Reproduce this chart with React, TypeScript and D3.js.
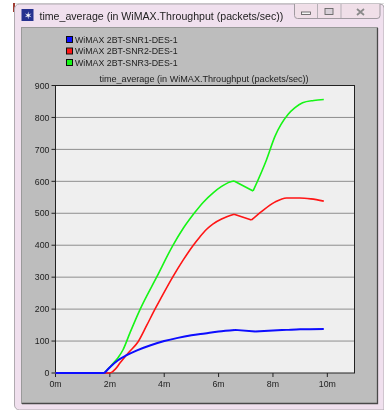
import React from "react";
import * as d3 from "d3";

const legendLabels = ["WiMAX 2BT-SNR1-DES-1", "WiMAX 2BT-SNR2-DES-1", "WiMAX 2BT-SNR3-DES-1"];
const seriesColors = ["#0a0aff", "#ff1414", "#14f514"];
const chartTitle = "time_average (in WiMAX.Throughput (packets/sec))";
const xTicks = [0, 2, 4, 6, 8, 10];
const yTicks = [0, 100, 200, 300, 400, 500, 600, 700, 800, 900];

const blueT = [0, 1.8, 2.05, 2.3, 2.6, 3, 3.5, 4, 4.5, 5, 5.5, 6, 6.6, 7.35, 8, 8.5, 9, 9.87];
const blueV = [0, 0, 22, 40, 55, 71, 87, 100, 110, 118, 124, 130, 135, 130, 133, 135, 137, 138];
const redT = [0, 1.95, 2.06, 2.2, 2.37, 2.7, 3.04, 3.35, 3.66, 3.84, 4.31, 4.7, 5.07, 5.31, 5.56, 5.8, 6.11, 6.57, 7.21, 7.6, 8.07, 8.5, 8.99, 9.4, 9.87];
const redV = [0, 0, 2, 12, 31, 65, 98, 148, 200, 228, 300, 354, 400, 426, 450, 467, 482, 497, 479, 507, 535, 548, 548, 545, 538];
const greenT = [0, 1.8, 2.1, 2.3, 2.48, 2.75, 3.1, 3.72, 4.31, 4.7, 5.13, 5.43, 5.8, 6.11, 6.415, 6.57, 7.27, 7.76, 8.07, 8.56, 8.8, 9.09, 9.5, 9.87];
const greenV = [0, 0, 28, 48, 72, 128, 197, 300, 398, 453, 503, 534, 564, 584, 598, 601, 570, 667, 740, 810, 830, 846, 853, 856];

const seriesT = [blueT, redT, greenT];
const seriesV = [blueV, redV, greenV];
const seriesCorners = [[1.8, 6.6, 7.35], [6.57, 7.21], [1.8, 6.57, 7.27]];
const seriesWidths = [2, 1.6, 1.6];

const PLOT = { left: 55.5, right: 354.5, top: 85.5, bottom: 373 };
const FONT = "'Liberation Sans', Arial, sans-serif";

export default function App() {
  const x = d3.scaleLinear().domain([0, 11]).range([PLOT.left, PLOT.right]);
  const y = d3.scaleLinear().domain([0, 900]).range([PLOT.bottom, PLOT.top]);
  const line = d3.line<[number, number]>().x((d) => x(d[0])).y((d) => y(d[1])).curve(d3.curveMonotoneX);
  const drawOrder = [2, 1, 0];

  // Smooth between corners, keep the sharp corners the lines have at their kinks.
  const pathFor = (s: number) => {
    const pts = seriesT[s].map((t, i) => [t, seriesV[s][i]] as [number, number]);
    const segments: [number, number][][] = [[]];
    pts.forEach((p) => {
      segments[segments.length - 1].push(p);
      if (seriesCorners[s].includes(p[0])) segments.push([p]);
    });
    return segments.map((seg) => line(seg) || "").join("");
  };

  return (
    <svg width={384} height={412} viewBox="0 0 384 412"
      style={{ position: "absolute", left: 0, top: 0, display: "block", background: "#ffffff" }}>
      <defs>
        <filter id="soft" x="0" y="0" width="100%" height="100%">
          <feGaussianBlur stdDeviation="0.3" />
        </filter>
      </defs>
      <g filter="url(#soft)">
        <line x1={14} x2={384} y1={3} y2={3} stroke="#bdbdbd" />
        <rect x={13} y={3} width={2} height={9} fill="#a03a30" />
        <path d="M14.5 25V405a5 5 0 0 0 5 5H384V8a4 4 0 0 0-4-4H19.5a5 5 0 0 0-5 5Z" fill="#f0e0ee" stroke="#b0aab0" strokeWidth={1} />
        <rect x={21.5} y={9} width={12} height={12} fill="#25308f" />
        <text x={27.5} y={18.5} fontSize={10} fill="#ffffff" textAnchor="middle" fontFamily={FONT}>✶</text>
        <text x={39.5} y={19.5} fontSize={10.6} fill="#222" fontFamily={FONT}>{chartTitle}</text>
        <path d="M294.5 4V15.5a3 3 0 0 0 3 3H377a3 3 0 0 0 3-3V4" fill="#f0dfe8" stroke="#a09aa0" />
        <path d="M317.5 4V18M341 4V18" stroke="#b5afb5" />
        <rect x={301.5} y={12} width={9} height={2.5} fill="#f5f5f5" stroke="#555" strokeWidth={0.8} />
        <rect x={325} y={8.5} width={8} height={6} fill="#d8d0d8" stroke="#666" strokeWidth={0.9} />
        <path d="M357 9L364 15M364 9L357 15" stroke="#8a8a8a" strokeWidth={1.8} />
        <rect x={21.5} y={27.5} width={356} height={376} fill="#bdbdbd" stroke="#9a9a9a" strokeWidth={1} />
        <path d="M377.5 28V403.5H22" fill="none" stroke="#4a4a4a" strokeWidth={1.3} />
        {legendLabels.map((label, i) => (
          <g key={label}>
            <rect x={66.5} y={36.5 + i * 11.5} width={6} height={6} fill={seriesColors[i]} stroke="#111" />
            <text x={75} y={42.8 + i * 11.5} fontSize={8.8} fill="#222" fontFamily={FONT}>{label}</text>
          </g>
        ))}
        <text x={204} y={82} fontSize={9.1} fill="#222" textAnchor="middle" fontFamily={FONT}>{chartTitle}</text>
        <rect x={PLOT.left} y={PLOT.top} width={PLOT.right - PLOT.left} height={PLOT.bottom - PLOT.top} fill="#efefef" />
        {yTicks.filter((t) => t > 0 && t < 900).map((t) => (
          <line key={t} x1={PLOT.left} x2={PLOT.right} y1={y(t)} y2={y(t)} stroke="#8e8e8e" strokeWidth={1} />
        ))}
        <rect x={PLOT.left} y={PLOT.top} width={PLOT.right - PLOT.left} height={PLOT.bottom - PLOT.top} fill="none" stroke="#222" strokeWidth={1} />
        {yTicks.map((t) => (
          <g key={t}>
            <line x1={PLOT.left - 4} x2={PLOT.left} y1={y(t)} y2={y(t)} stroke="#222" />
            <text x={PLOT.left - 6} y={y(t) + 3.2} fontSize={8.8} fill="#222" textAnchor="end" fontFamily={FONT}>{t}</text>
          </g>
        ))}
        {xTicks.map((t) => (
          <g key={t}>
            <line x1={x(t)} x2={x(t)} y1={PLOT.bottom} y2={PLOT.bottom + 4} stroke="#222" />
            <text x={x(t)} y={PLOT.bottom + 13.5} fontSize={8.8} fill="#222" textAnchor="middle" fontFamily={FONT}>{`${t}m`}</text>
          </g>
        ))}
        {drawOrder.map((s) => (
          <path key={s} d={pathFor(s)} fill="none" stroke={seriesColors[s]} strokeWidth={seriesWidths[s]} strokeLinejoin="round" />
        ))}
      </g>
    </svg>
  );
}
